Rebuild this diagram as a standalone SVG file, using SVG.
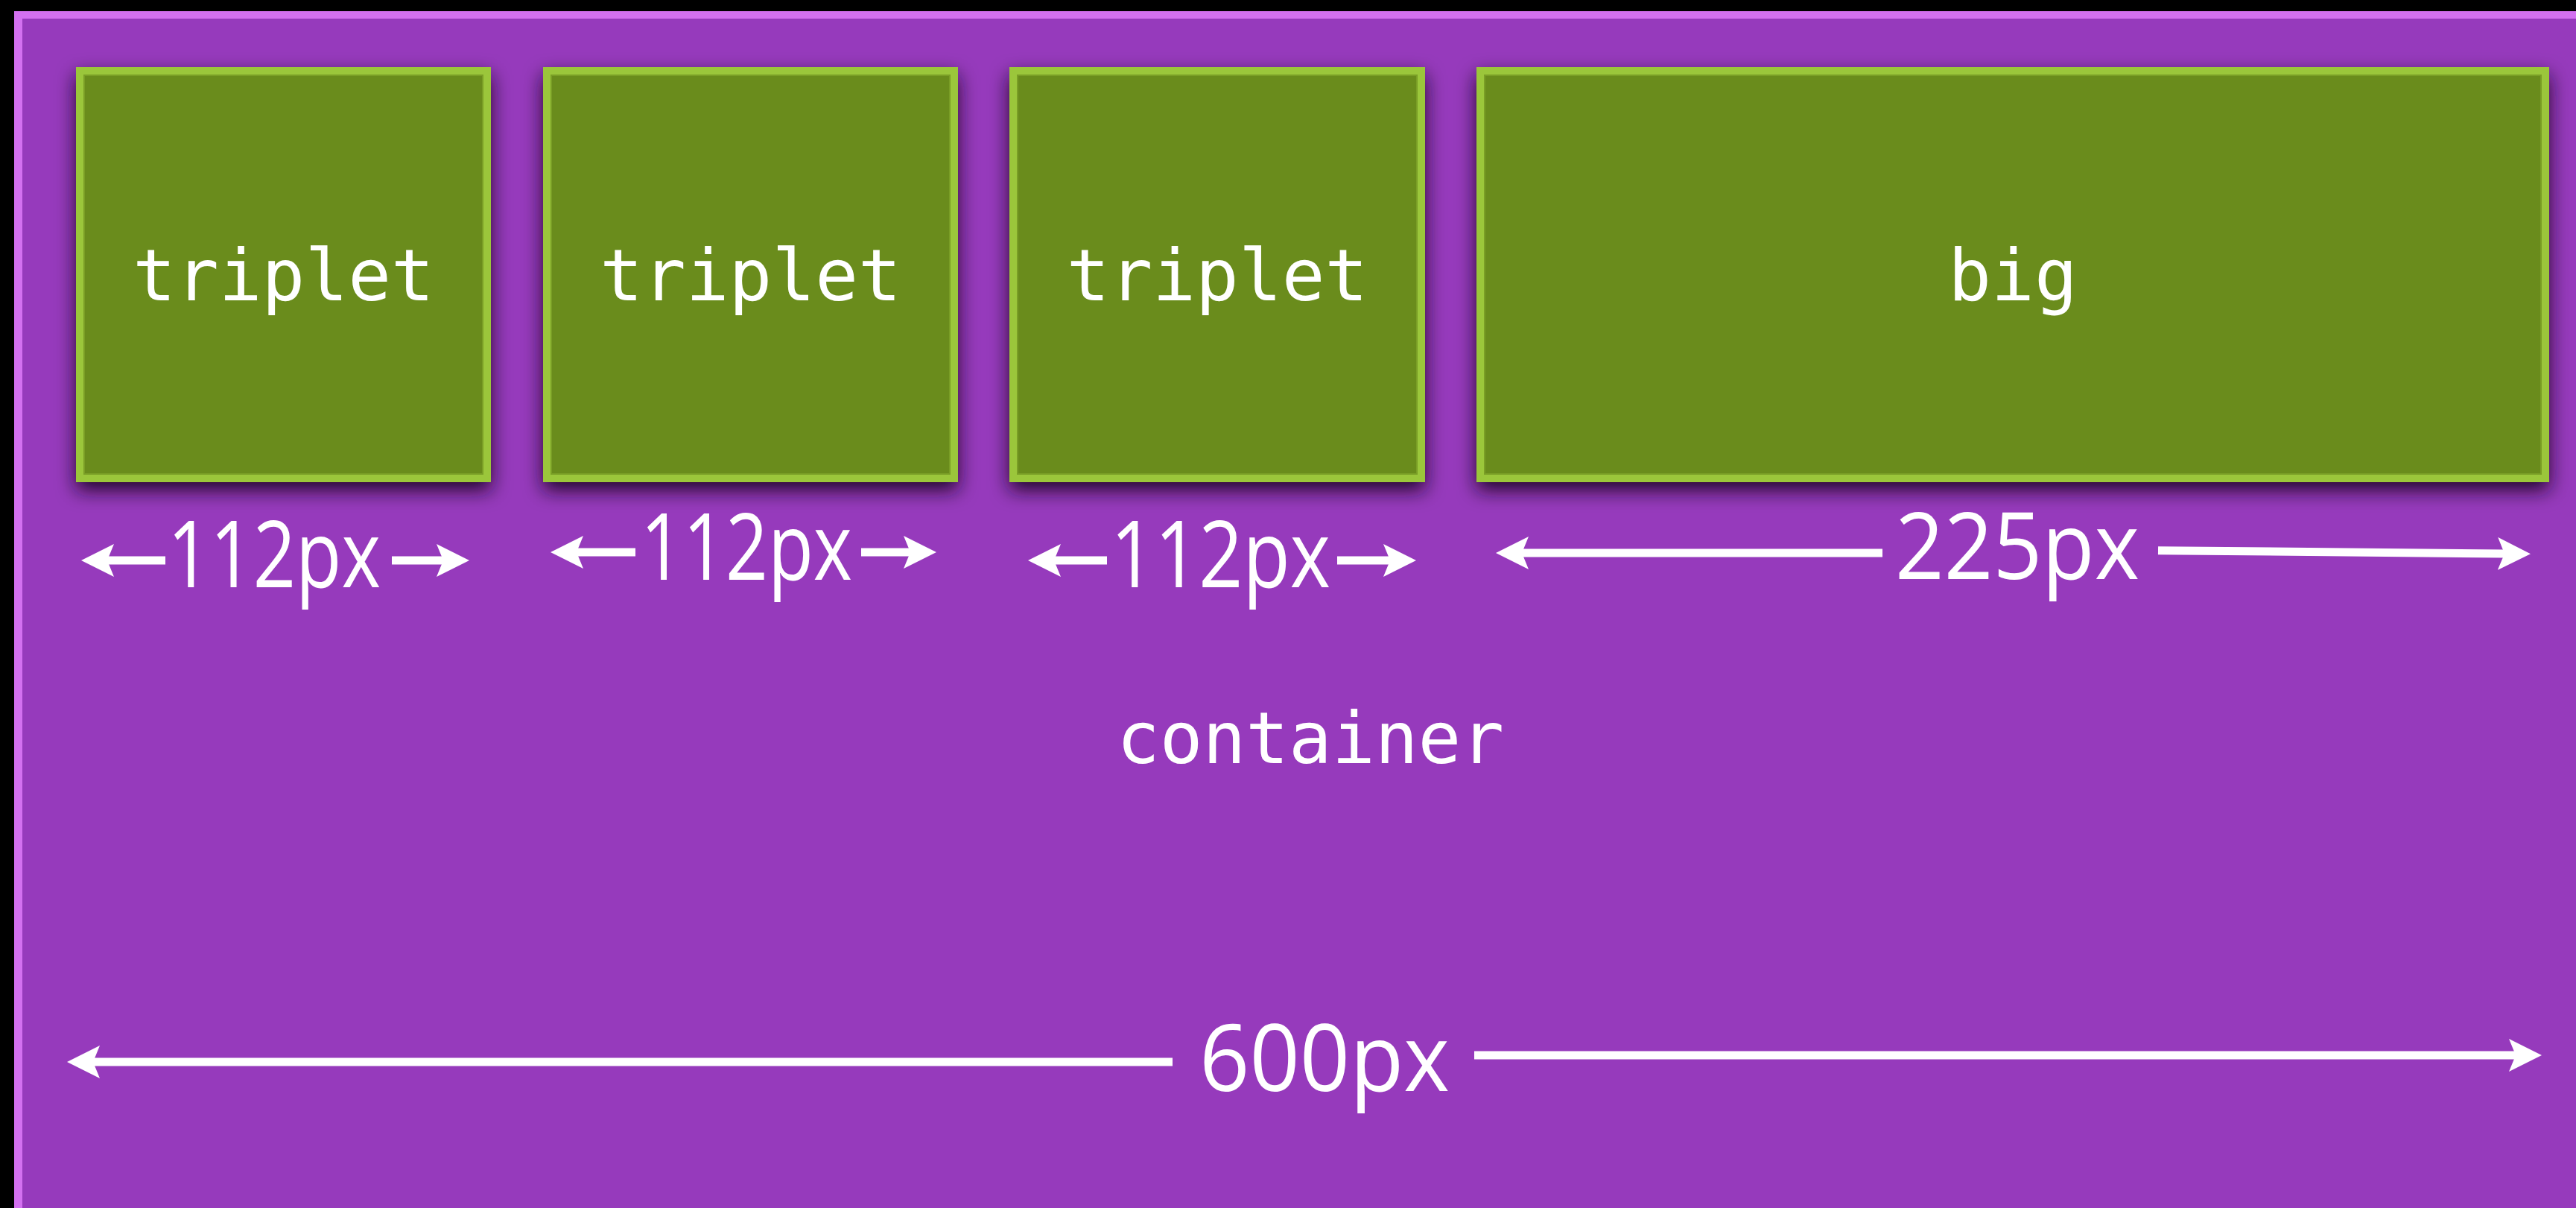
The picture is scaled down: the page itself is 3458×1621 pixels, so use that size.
<svg xmlns="http://www.w3.org/2000/svg" width="3458" height="1621" viewBox="0 0 3458 1621">
<style>
.box-border{fill:#9bc63a}
.box-fill{fill:#6a8c1e;stroke:#7a9e26;stroke-width:2}
.mono{font-family:"DejaVu Sans Mono","Liberation Mono",monospace;font-size:96px;fill:#ffffff}
.dim{font-family:"Open Sans","Noto Sans",sans-serif;font-weight:400;font-size:124px;fill:#ffffff}
.arrow{stroke:#ffffff;stroke-width:11;fill:none;marker-end:url(#head)}
</style>
<defs>
<marker id="head" viewBox="0 0 44 44" refX="9" refY="22" markerWidth="44" markerHeight="44" markerUnits="userSpaceOnUse" orient="auto">
<path d="M0,0 L44,22 L0,44 L9,22 Z" fill="#ffffff"/>
</marker>
<filter id="shadow" x="-10%" y="-10%" width="120%" height="125%">
<feDropShadow dx="0" dy="11" stdDeviation="13" flood-color="#14031f" flood-opacity="0.9"/>
</filter>
</defs>
<rect x="0" y="0" width="3458" height="1621" fill="#000000"/>
<g id="container">
<rect x="19" y="15" width="3460" height="1620" fill="#d370f0"/>
<rect x="30" y="25" width="3440" height="1610" fill="#963abc"/>
<text class="mono" x="1759" y="1024" text-anchor="middle">container</text>
</g>
<g id="triplet1" filter="url(#shadow)">
<rect class="box-border" x="102" y="90" width="557" height="557"/>
<rect class="box-fill" x="113" y="101" width="535" height="535"/>
</g>
<text class="mono" x="380.5" y="403" text-anchor="middle">triplet</text>
<g id="triplet2" filter="url(#shadow)">
<rect class="box-border" x="729" y="90" width="557" height="557"/>
<rect class="box-fill" x="740" y="101" width="535" height="535"/>
</g>
<text class="mono" x="1007.5" y="403" text-anchor="middle">triplet</text>
<g id="triplet3" filter="url(#shadow)">
<rect class="box-border" x="1355" y="90" width="558" height="557"/>
<rect class="box-fill" x="1366" y="101" width="536" height="535"/>
</g>
<text class="mono" x="1634" y="403" text-anchor="middle">triplet</text>
<g id="big" filter="url(#shadow)">
<rect class="box-border" x="1982" y="90" width="1440" height="557"/>
<rect class="box-fill" x="1993" y="101" width="1418" height="535"/>
</g>
<text class="mono" x="2702" y="403" text-anchor="middle">big</text>
<g id="connectors">
<line class="arrow" x1="222" y1="752" x2="144" y2="752"/>
<line class="arrow" x1="526" y1="752" x2="595" y2="752"/>
<line class="arrow" x1="853" y1="741" x2="774" y2="741"/>
<line class="arrow" x1="1156" y1="741" x2="1222" y2="741"/>
<line class="arrow" x1="1486" y1="752" x2="1415" y2="752"/>
<line class="arrow" x1="1795" y1="752" x2="1866" y2="752"/>
<line class="arrow" x1="2527" y1="742" x2="2043" y2="742"/>
<line class="arrow" x1="2897" y1="738.7" x2="3362" y2="743"/>
<line class="arrow" x1="1574" y1="1425" x2="125" y2="1425"/>
<line class="arrow" x1="1979" y1="1416" x2="3377" y2="1416"/>
</g>
<g id="labels">
<text class="dim" x="225" y="788" textLength="286" lengthAdjust="spacingAndGlyphs">112px</text>
<text class="dim" x="860" y="778" textLength="284" lengthAdjust="spacingAndGlyphs">112px</text>
<text class="dim" x="1491" y="788" textLength="295" lengthAdjust="spacingAndGlyphs">112px</text>
<text class="dim" x="2544" y="777" textLength="328" lengthAdjust="spacingAndGlyphs">225px</text>
<text class="dim" x="1610" y="1464" textLength="336" lengthAdjust="spacingAndGlyphs">600px</text>
</g>
</svg>
